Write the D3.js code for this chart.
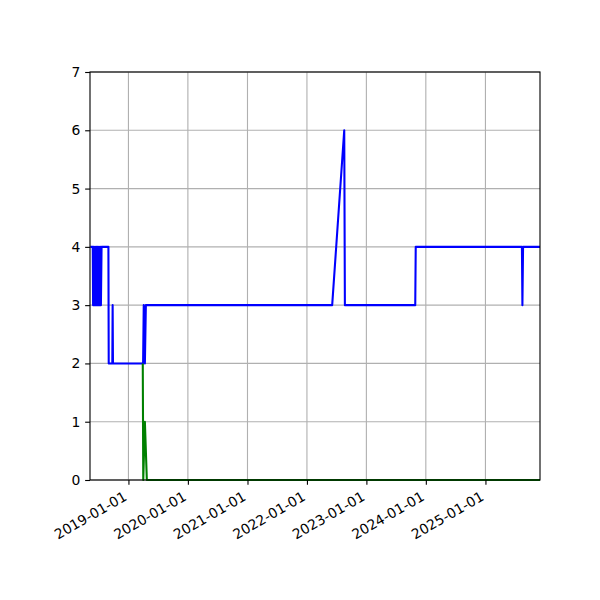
<!DOCTYPE html>
<html>
<head>
<meta charset="utf-8">
<script src="https://cdn.jsdelivr.net/npm/d3@7"></script>
<style>
html,body{margin:0;padding:0;background:#fff;}
text{font-family:"DejaVu Sans",sans-serif;}
</style>
</head>
<body>
<svg id="chart" width="600" height="600"></svg>
<script>
// ---- data ----
const xDomain = ["2018-05-10", "2025-12-02"];
const yTicks = [0, 1, 2, 3, 4, 5, 6, 7];
const xTickLabels = ["2019-01-01", "2020-01-01", "2021-01-01", "2022-01-01", "2023-01-01", "2024-01-01", "2025-01-01"];

const blueDates = [
  "2018-05-12", "2018-05-27", "2018-05-29", "2018-06-02", "2018-06-06", "2018-06-10",
  "2018-06-14", "2018-06-18", "2018-06-22", "2018-06-26", "2018-06-30", "2018-07-04",
  "2018-07-08", "2018-07-12", "2018-07-16", "2018-07-20", "2018-08-31", "2018-09-02",
  "2018-09-24", "2018-09-26", "2018-09-28", "2019-04-01", "2019-04-05", "2019-04-12",
  "2019-04-18", "2022-06-05", "2022-08-18", "2022-08-22", "2023-10-28", "2023-10-31",
  "2025-08-13", "2025-08-16", "2025-08-20", "2025-12-02"
];
const blueValues = [
  4, 4, 3, 4, 3, 4,
  3, 4, 3, 4, 3, 4,
  3, 4, 3, 4, 4, 2,
  2, 3, 2, 2, 3, 2,
  3, 3, 6, 3, 3, 4,
  4, 3, 4, 4
];

const greenDates = ["2019-03-30", "2019-04-02", "2019-04-12", "2019-04-24", "2025-12-02"];
const greenValues = [2, 0, 1, 0, 0];

// ---- layout ----
const margin = {left: 90, right: 60, top: 72, bottom: 120};
const W = 600, H = 600;
const parse = d3.utcParse("%Y-%m-%d");

const svg = d3.select("#chart");
const x = d3.scaleUtc().domain(xDomain.map(parse)).range([margin.left, W - margin.right]);
const y = d3.scaleLinear().domain([0, 7]).range([H - margin.bottom, margin.top]);

const fontPx = 13.9;
const tickLen = 4.86;
const thin = 1.11;
const lw = 2.08;

// grid
const gGrid = svg.append("g");
gGrid.selectAll("line.gx").data(xTickLabels.map(parse)).enter().append("line")
  .attr("x1", d => x(d)).attr("x2", d => x(d))
  .attr("y1", y(0)).attr("y2", y(7))
  .attr("stroke", "#b0b0b0").attr("stroke-width", thin);
gGrid.selectAll("line.gy").data(yTicks).enter().append("line")
  .attr("x1", x.range()[0]).attr("x2", x.range()[1])
  .attr("y1", d => y(d)).attr("y2", d => y(d))
  .attr("stroke", "#b0b0b0").attr("stroke-width", thin);

// lines
const line = d3.line().x(d => x(d[0])).y(d => y(d[1]));
svg.append("clipPath").attr("id", "clip").append("rect")
  .attr("x", x.range()[0]).attr("y", y(7) - 2)
  .attr("width", x.range()[1] - x.range()[0]).attr("height", y(0) - y(7) + 4);

const blue = blueDates.map((d, i) => [parse(d), blueValues[i]]);
const green = greenDates.map((d, i) => [parse(d), greenValues[i]]);

svg.append("path").datum(blue).attr("d", line)
  .attr("fill", "none").attr("stroke", "#0000ff").attr("stroke-width", lw)
  .attr("stroke-linejoin", "round").attr("stroke-linecap", "butt").attr("clip-path", "url(#clip)");
svg.append("path").datum(green).attr("d", line)
  .attr("fill", "none").attr("stroke", "#008000").attr("stroke-width", lw)
  .attr("stroke-linejoin", "round").attr("stroke-linecap", "butt").attr("clip-path", "url(#clip)");

// axes
const xAxis = d3.axisBottom(x).tickValues(xTickLabels.map(parse))
  .tickFormat(d3.utcFormat("%Y-%m-%d")).tickSize(tickLen).tickPadding(4.86);
const gx = svg.append("g").attr("transform", `translate(0,${y(0)})`).call(xAxis);
gx.select(".domain").remove();
gx.selectAll(".tick line").attr("stroke", "#000").attr("stroke-width", thin);
gx.selectAll(".tick text")
  .attr("font-size", fontPx).attr("fill", "#000")
  .attr("text-anchor", "end")
  .attr("x", -1).attr("y", 19.3).attr("dy", null)
  .attr("transform", "rotate(-30, -1, 19.3)");

const yAxis = d3.axisLeft(y).tickValues(yTicks).tickFormat(d3.format("d"))
  .tickSize(tickLen).tickPadding(4.86);
const gy = svg.append("g").attr("transform", `translate(${x.range()[0]},0)`).call(yAxis);
gy.select(".domain").remove();
gy.selectAll(".tick line").attr("stroke", "#000").attr("stroke-width", thin);
gy.selectAll(".tick text").attr("font-size", fontPx).attr("fill", "#000");

// spines
svg.append("rect")
  .attr("x", x.range()[0]).attr("y", y(7))
  .attr("width", x.range()[1] - x.range()[0]).attr("height", y(0) - y(7))
  .attr("fill", "none").attr("stroke", "#000").attr("stroke-width", thin);
</script>
</body>
</html>
